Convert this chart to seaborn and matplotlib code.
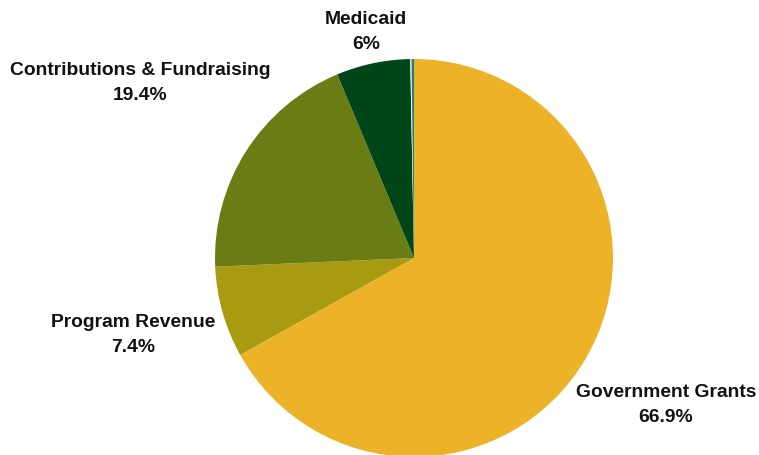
import matplotlib
matplotlib.use("Agg")
import matplotlib.pyplot as plt
import seaborn as sns

sns.set_theme(style="white")
plt.rcParams['font.family'] = ['Liberation Sans', 'DejaVu Sans']

categories = ["Government Grants", "Program Revenue", "Contributions & Fundraising", "Medicaid", "Other A", "Other B"]
values = [66.9, 7.4, 19.4, 6.0, 0.1, 0.2]
pct_labels = ["66.9%", "7.4%", "19.4%", "6%", "", ""]
colors = ["#EDB328", "#A89B12", "#6A7D14", "#004517", "#F2F2F2", "#1F7F7F"]

fig = plt.figure(figsize=(7.59, 4.55), dpi=100)
ax = fig.add_axes([0, 0, 1, 1])

ax.pie(values, colors=colors, startangle=90, counterclock=False,
       center=(414, 197), radius=199, frame=True,
       wedgeprops=dict(linewidth=0))
ax.set_xlim(0, 759)
ax.set_ylim(0, 455)
ax.set_aspect("equal")
ax.axis("off")

label_pos = [(666, 50), (133, 120), (140, 372), (366, 423)]
for name, pct, (x, y) in zip(categories[:4], pct_labels[:4], label_pos):
    ax.text(x, y, f"{name}\n{pct}", ha="center", va="center",
            fontsize=13.9, fontweight="bold", color="#111111", linespacing=1.55)

fig.savefig("out.png", dpi=100)
